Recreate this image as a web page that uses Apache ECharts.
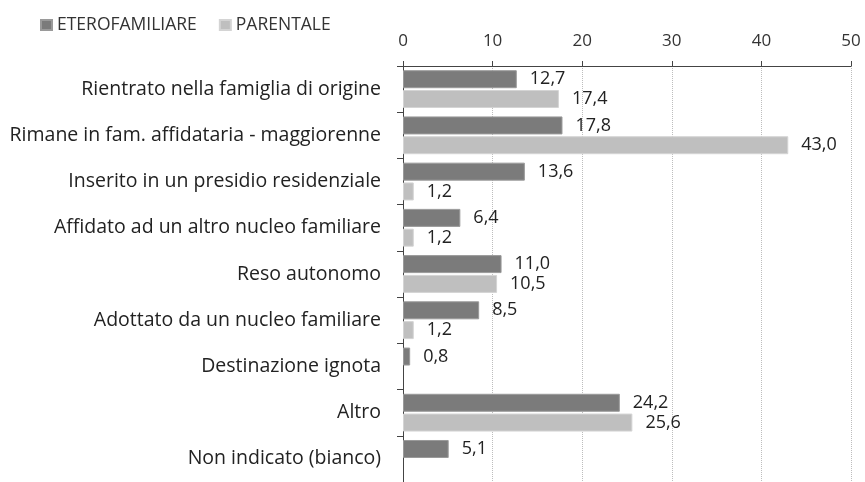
<!DOCTYPE html>
<html>
<head>
<meta charset="utf-8">
<script src="https://cdn.jsdelivr.net/npm/echarts@6/dist/echarts.min.js"></script>
<style>
  html, body { margin: 0; padding: 0; background: #fff; }
  #main { width: 865px; height: 482px; }
</style>
</head>
<body>
<div id="main"></div>
<script>
var categories = [
    'Rientrato nella famiglia di origine',
    'Rimane in fam. affidataria - maggiorenne',
    'Inserito in un presidio residenziale',
    'Affidato ad un altro nucleo familiare',
    'Reso autonomo',
    'Adottato da un nucleo familiare',
    'Destinazione ignota',
    'Altro',
    'Non indicato (bianco)'
];
var etero = [12.7, 17.8, 13.6, 6.4, 11.0, 8.5, 0.8, 24.2, 5.1];
var parentale = [17.4, 43.0, 1.2, 1.2, 10.5, 1.2, null, 25.6, null];

var myChart = echarts.init(document.getElementById('main'));

function fmt(p) {
    return p.value.toFixed(1).replace('.', ',');
}

var fontFam = 'Open Sans';

var option = {
    backgroundColor: '#ffffff',
    textStyle: { fontFamily: fontFam },
    legend: {
        left: 35,
        top: 11,
        itemWidth: 11,
        itemHeight: 10,
        itemGap: 22,
        icon: 'rect',
        textStyle: { fontSize: 17.5, color: '#333', fontFamily: fontFam },
        data: ['ETEROFAMILIARE', 'PARENTALE']
    },
    grid: {
        left: 403,
        right: 14,
        top: 66,
        height: 420,
        containLabel: false
    },
    xAxis: {
        type: 'value',
        position: 'top',
        min: 0,
        max: 50,
        interval: 10,
        axisLine: { show: true, lineStyle: { color: '#444', width: 1 } },
        axisTick: { show: true, length: 5, lineStyle: { color: '#444' } },
        axisLabel: { fontSize: 17, color: '#333', margin: 16 },
        splitLine: { lineStyle: { color: '#bdbdbd', type: 'dotted', width: 1 } }
    },
    yAxis: {
        type: 'category',
        inverse: true,
        data: categories,
        axisLine: { lineStyle: { color: '#444', width: 1 } },
        axisTick: { show: true, length: 6, lineStyle: { color: '#444' } },
        axisLabel: { fontSize: 19.5, color: '#222', margin: 22 }
    },
    series: [{
        name: 'ETEROFAMILIARE',
        type: 'bar',
        barWidth: 18,
        barGap: '10%',
        itemStyle: { color: '#7b7b7b', borderColor: '#9a9a9a', borderWidth: 1 },
        label: {
            show: true,
            position: 'right',
            distance: 13,
            fontSize: 18,
            color: '#222',
            formatter: fmt
        },
        data: etero
    }, {
        name: 'PARENTALE',
        type: 'bar',
        barWidth: 18,
        barGap: '10%',
        itemStyle: { color: '#bfbfbf', borderColor: '#d4d4d4', borderWidth: 1 },
        label: {
            show: true,
            position: 'right',
            distance: 13,
            fontSize: 18,
            color: '#222',
            formatter: fmt
        },
        data: parentale
    }]
};
myChart.setOption(option);
</script>
</body>
</html>
